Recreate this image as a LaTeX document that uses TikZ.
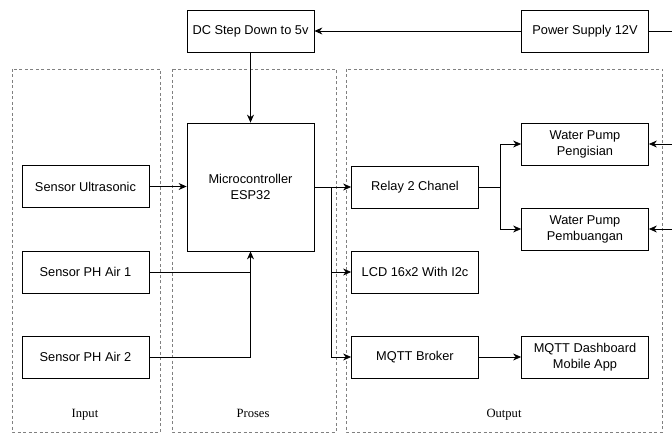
\documentclass[tikz,border=0pt]{standalone}
\usepackage{fontspec}
\setmainfont{Liberation Serif}
\setsansfont{Liberation Sans}
\usetikzlibrary{positioning, arrows.meta, calc}

\begin{document}
\begin{tikzpicture}[x=1pt, y=-1pt]
	\tikzset{
		block/.style={draw, line width=0.8pt, inner sep=0pt, minimum width=127pt, minimum height=42pt, align=center, font=\sffamily\fontsize{12.8}{16}\selectfont},
		group/.style={draw=gray, line width=0.6pt, dash pattern=on 3pt off 2.5pt},
		grouplabel/.style={anchor=base, font=\fontsize{12.6}{14}\selectfont},
		link/.style={line width=0.8pt},
		with arrow/.style={line width=0.8pt, -{Stealth[length=8pt, width=7pt]}}
	}
	\useasboundingbox (0,0) rectangle (672,433);
	\draw[group] (12,69) rectangle (160,432);
	\draw[group] (172,69) rectangle (336,432);
	\draw[group] (346,69) rectangle (662,432);
	\node[grouplabel] (lblIn) at (85,417) {Input};
	\node[grouplabel] (lblPros) at (253,417) {Proses};
	\node[grouplabel] (lblOut) at (504,417) {Output};

	\node[block] (dc) at (250.5,31) {DC Step Down to 5v};
	\node[block] (ps) at (585,31) {Power Supply 12V};
	\node[block] (ultra) at (85.5,186.5) {Sensor Ultrasonic};
	\node[block] (ph1) at (85.5,272) {Sensor PH Air 1};
	\node[block] (ph2) at (85.5,357) {Sensor PH Air 2};
	\node[block, minimum height=128pt] (esp) at (250.5,187) {Microcontroller\\ESP32};
	\node[block] (relay) at (415,187) {Relay 2 Chanel};
	\node[block] (lcd) at (415,272) {LCD 16x2 With I2c};
	\node[block] (broker) at (415,357) {MQTT Broker};
	\node[block] (isi) at (585,144) {Water Pump\\Pengisian};
	\node[block] (buang) at (585,229) {Water Pump\\Pembuangan};
	\node[block] (app) at (585,357) {MQTT Dashboard\\Mobile App};

	\coordinate (psR) at (672,31);
	\coordinate (isiR) at (672,144);
	\coordinate (buangR) at (672,229);
	\coordinate (split) at (331,187);
	\coordinate (fork) at (500,187);

	\draw[link] (psR) -- (ps.east);
	\draw[with arrow] (ps) -- (dc);
	\draw[with arrow] (dc) -- (esp);
	\draw[with arrow] (ultra.east) -- (ultra.east -| esp.west);
	\draw[link] (ph1.east) -- (ph1.east -| esp.south);
	\draw[with arrow] (ph2.east) -| (esp.south);
	\draw[with arrow] (esp.east) -- (relay.west);
	\draw[with arrow] (split) |- (lcd.west);
	\draw[with arrow] (split) |- (broker.west);
	\draw[link] (relay.east) -- (fork);
	\draw[with arrow] (fork) |- (isi.west);
	\draw[with arrow] (fork) |- (buang.west);
	\draw[with arrow] (isiR) -- (isi.east);
	\draw[with arrow] (buangR) -- (buang.east);
	\draw[with arrow] (broker) -- (app);
\end{tikzpicture}
\end{document}
